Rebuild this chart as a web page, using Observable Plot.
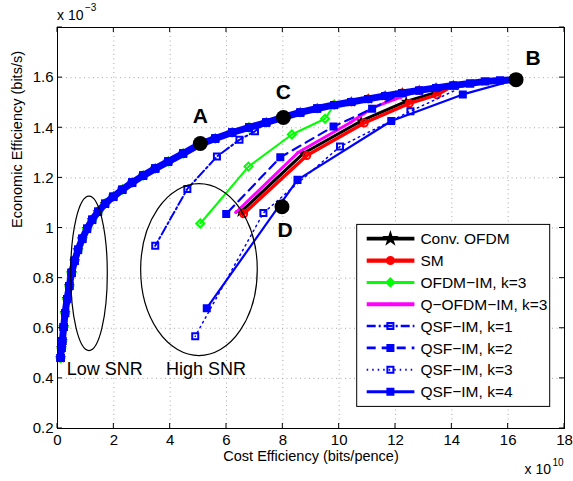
<!DOCTYPE html>
<html><head><meta charset="utf-8">
<script src="https://cdn.jsdelivr.net/npm/d3@7"></script>
<script src="https://cdn.jsdelivr.net/npm/@observablehq/plot@0.6"></script>
<style>
html,body{margin:0;padding:0;background:#fff;}
#chart{width:573px;height:481px;}
#chart svg{font-family:"Liberation Sans",Arial,Helvetica,sans-serif;}
</style></head><body><div id="chart"></div>
<script>
// ---------- data ----------
const xTicks = [0,2,4,6,8,10,12,14,16,18];
const yTicks = [0.2,0.4,0.6,0.8,1,1.2,1.4,1.6,1.8];
const yTickLabels = ["0.2","0.4","0.6","0.8","1","1.2","1.4","1.6",""];

// shared low-SNR envelope (cost efficiency x1e10, economic efficiency x1e-3)
const envX = [0.11,0.14,0.17,0.22,0.27,0.34,0.42,0.50,0.61,0.73,0.88,1.05,1.23,1.44,1.69,1.98,2.30,2.65,3.04,3.47,3.93,4.46,5.03,5.60,6.20,6.80,7.41,8.01,8.62,9.22,9.82,10.43,11.03,11.63,12.24,12.84,13.44,14.05,14.65,15.18,15.71,16.28];
const envY = [0.481,0.521,0.549,0.605,0.661,0.717,0.769,0.821,0.869,0.913,0.957,0.997,1.033,1.065,1.097,1.125,1.153,1.181,1.209,1.237,1.265,1.297,1.333,1.357,1.381,1.401,1.421,1.441,1.461,1.477,1.491,1.503,1.515,1.527,1.539,1.549,1.559,1.569,1.577,1.585,1.589,1.592];

const names = ["Conv. OFDM","SM","OFDM\u2212IM, k=3","Q\u2212OFDM\u2212IM, k=3","QSF\u2212IM, k=1","QSF\u2212IM, k=2","QSF\u2212IM, k=3","QSF\u2212IM, k=4"];
// last envelope index reached by each series before it turns back
const turnIndex = [37,37,30,35,26,34,38,41];
// return (high-SNR) branch of each series
const retX = [
  [13.44,12.38,10.78,8.72,6.50],
  [13.47,12.49,10.89,8.85,6.61],
  [9.50,8.32,6.78,5.07],
  [12.17,11.21,10.40,8.54,6.34],
  [7.01,6.46,5.66,4.61,3.47],
  [11.17,9.80,7.91,5.99],
  [12.53,10.03,7.31,4.89],
  [14.39,11.85,8.52,5.30]
];
const retY = [
  [1.541,1.505,1.427,1.297,1.063],
  [1.531,1.497,1.419,1.289,1.057],
  [1.436,1.373,1.245,1.018],
  [1.521,1.481,1.421,1.301,1.063],
  [1.386,1.352,1.285,1.156,0.929],
  [1.476,1.405,1.282,1.056],
  [1.466,1.325,1.060,0.568],
  [1.533,1.427,1.192,0.680]
];

// marked points
const ptLabel = ["A","B","C","D"];
const ptX = [5.07,16.28,8.02,7.97];
const ptY = [1.337,1.592,1.441,1.085];

// region annotations
const annText = ["Low SNR","High SNR"];
const annX = [0.33,3.85];
const annY = [0.436,0.436];
const ellCX = [1.136,5.04];
const ellCY = [0.817,0.832];
const ellRX = [0.65,2.07];
const ellRY = [0.308,0.343];

// ---------- styles ----------
const colors = ["#000000","#ff0000","#00ff00","#ff00ff","#0000ff","#0000ff","#0000ff","#0000ff"];
const lineW = [3,3.5,2,3,2,2.2,1.5,2.2];
const dashes = [null,null,null,null,"9,3,2,3","9,6","1.5,4",null];
const symbols = ["star","circle","diamond2","circle","square","square","square","square"];
const symR = [3.5,3.5,3.6,1.8,3.4,3.4,3.4,3.4];
const symFill = ["#000000","none","none","#ff00ff","none","#0000ff","none","#0000ff"];
const symStroke = ["none","#ff0000","#00ff00","#ff00ff","#0000ff","#0000ff","#0000ff","#0000ff"];
const symSW = [0,2,2,0,2,2,2,2];
const labDX = [0,17,0,3];
const labDY = [-27,-21,-25,24];
const d3sym = {star: d3.symbolStar, circle: d3.symbolCircle, diamond2: d3.symbolDiamond2, square: d3.symbolSquare};

// ---------- table ----------
const rows = [];
names.forEach((name, s) => {
  for (let i = 0; i <= turnIndex[s]; i++) rows.push({s, name, x: envX[i], y: envY[i]});
  retX[s].forEach((x, j) => rows.push({s, name, x, y: retY[s][j]}));
});

const gridStyle = {stroke: "#a8a8a8", strokeOpacity: 1, strokeWidth: 1, strokeDasharray: "1,3.5"};

function insideTicks(index, scales, values, dim) {
  const g = d3.create("svg:g").attr("stroke", "#000").attr("stroke-width", 1);
  const x0 = dim.marginLeft, x1 = dim.width - dim.marginRight;
  const y0 = dim.marginTop, y1 = dim.height - dim.marginBottom;
  for (const v of xTicks) {
    const p = scales.x(v);
    g.append("line").attr("x1", p).attr("x2", p).attr("y1", y1).attr("y2", y1 - 5);
    g.append("line").attr("x1", p).attr("x2", p).attr("y1", y0).attr("y2", y0 + 5);
  }
  for (const v of yTicks) {
    const p = scales.y(v);
    g.append("line").attr("y1", p).attr("y2", p).attr("x1", x0).attr("x2", x0 + 5);
    g.append("line").attr("y1", p).attr("y2", p).attr("x1", x1).attr("x2", x1 - 5);
  }
  return g.node();
}

function ellipses(index, scales) {
  const g = d3.create("svg:g").attr("fill", "none").attr("stroke", "#000").attr("stroke-width", 1.2);
  ellCX.forEach((cx, i) => {
    const px = scales.x(cx), py = scales.y(ellCY[i]);
    g.append("ellipse").attr("cx", px).attr("cy", py)
      .attr("rx", scales.x(cx + ellRX[i]) - px)
      .attr("ry", py - scales.y(ellCY[i] + ellRY[i]));
  });
  return g.node();
}

function exponents(index, scales, values, dim) {
  const g = d3.create("svg:g").attr("fill", "#000").attr("text-anchor", "start");
  const x0 = dim.marginLeft, x1 = dim.width - dim.marginRight;
  const y0 = dim.marginTop, y1 = dim.height - dim.marginBottom;
  const t1 = g.append("text").attr("x", x0).attr("y", y0 - 7).attr("font-size", 14).attr("text-anchor", "start");
  t1.append("tspan").text("x 10");
  t1.append("tspan").attr("dx", 1.5).attr("dy", -9).attr("font-size", 10).text("\u22123");
  const t2 = g.append("text").attr("x", x1 - 39.5).attr("y", y1 + 46).attr("font-size", 14).attr("text-anchor", "start");
  t2.append("tspan").text("x 10");
  t2.append("tspan").attr("dx", 1.5).attr("dy", -8).attr("font-size", 10).text("10");
  return g.node();
}

function legend(index, scales, values, dim) {
  const x1 = dim.width - dim.marginRight, y1 = dim.height - dim.marginBottom;
  const bw = 193, bh = 182;
  const bx = x1 - 14.3 - bw, by = y1 - 21.6 - bh;
  const g = d3.create("svg:g").attr("text-anchor", "start");
  g.append("rect").attr("x", bx).attr("y", by).attr("width", bw).attr("height", bh)
    .attr("fill", "#fff").attr("stroke", "#000").attr("stroke-width", 1);
  names.forEach((n, i) => {
    const cy = by + 14.3 + i * 21.85;
    const ln = g.append("line").attr("x1", bx + 10).attr("x2", bx + 57.7).attr("y1", cy).attr("y2", cy)
      .attr("stroke", colors[i]).attr("stroke-width", Math.max(lineW[i], 2.2) + 0.8);
    if (dashes[i]) ln.attr("stroke-dasharray", dashes[i]).attr("stroke-width", lineW[i] + 0.5);
    g.append("path").attr("transform", `translate(${bx + 33.7},${cy})`)
      .attr("d", d3.symbol(d3sym[symbols[i]], Math.PI * symR[i] * symR[i] * (i === 0 ? 2.2 : 1))())
      .attr("fill", i === 1 || i === 2 ? colors[i] : symFill[i]).attr("stroke", symStroke[i]).attr("stroke-width", symSW[i]);
    g.append("text").attr("x", bx + 63.7).attr("y", cy).attr("dy", "0.36em").attr("text-anchor", "start")
      .attr("font-size", 15.5).attr("fill", "#000").text(n);
  });
  return g.node();
}

const marks = [
  Plot.gridX({ticks: xTicks, ...gridStyle}),
  Plot.gridY({ticks: yTicks, ...gridStyle})
];
names.forEach((name, s) => {
  const data = rows.filter(d => d.s === s);
  if (s === 7) {
    marks.push(Plot.line(data.slice(0, turnIndex[s] + 1), {x: "x", y: "y", stroke: colors[s], strokeWidth: 7, strokeLinejoin: "round", strokeLinecap: "round"}));
  }
  const lo = {x: "x", y: "y", stroke: colors[s], strokeWidth: lineW[s], strokeLinejoin: "round"};
  if (dashes[s]) lo.strokeDasharray = dashes[s];
  marks.push(Plot.line(data, lo));
  marks.push(Plot.dot(data, {x: "x", y: "y", symbol: symbols[s], r: symR[s], fill: symFill[s], stroke: symStroke[s], strokeWidth: symSW[s]}));
});
marks.push(
  ellipses,
  Plot.text(annText, {x: (d, i) => annX[i], y: (d, i) => annY[i], text: d => d, textAnchor: "start", fontSize: 18}),
  Plot.dot(ptLabel, {x: (d, i) => ptX[i], y: (d, i) => ptY[i], r: 7.5, fill: "#000"}),
  ...ptLabel.map((lab, i) => Plot.text([lab], {x: () => ptX[i], y: () => ptY[i], text: d => d, dx: labDX[i], dy: labDY[i], fontSize: 21, fontWeight: "bold"})),
  Plot.frame({stroke: "#000", strokeWidth: 1}),
  insideTicks,
  Plot.axisX({ticks: xTicks, tickSize: 0, tickPadding: 6, fontSize: 15, label: null}),
  Plot.axisY({ticks: yTicks, tickSize: 0, tickPadding: 4, fontSize: 15, label: null, tickFormat: d => { const i = yTicks.indexOf(d); return i >= 0 ? yTickLabels[i] : ""; }}),
  Plot.text(["Cost Efficiency (bits/pence)"], {frameAnchor: "bottom", dy: 32, text: d => d, fontSize: 14.5}),
  Plot.text(["Economic Efficiency (bits/s)"], {frameAnchor: "left", dx: -40, rotate: -90, text: d => d, fontSize: 14.5}),
  exponents,
  legend
);

const chart = Plot.plot({
  width: 573, height: 481,
  marginLeft: 57, marginRight: 9, marginTop: 27, marginBottom: 53,
  x: {domain: [0, 18]},
  y: {domain: [0.2, 1.8]},
  style: {background: "#fff", color: "#000", fontFamily: "'Liberation Sans', Arial, Helvetica, sans-serif", fontSize: "15px"},
  marks
});
document.getElementById("chart").append(chart);
</script>
</body></html>
